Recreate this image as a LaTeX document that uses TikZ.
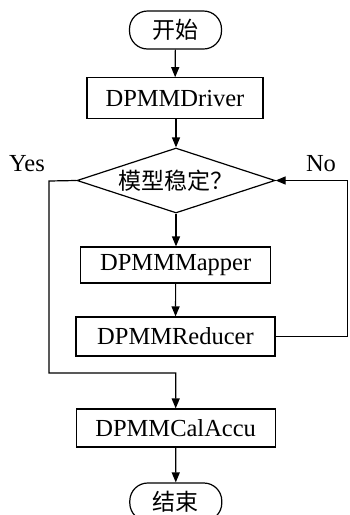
\documentclass[tikz,border=0pt]{standalone}
\usepackage{fontspec}
\setmainfont{Liberation Serif}
\newfontfamily\cjk{Noto Sans CJK SC}
\usetikzlibrary{shapes.geometric,arrows.meta}
\begin{document}
\begin{tikzpicture}[x=1pt,y=1pt,
  line width=1.2pt,
  font=\fontsize{24.5}{27}\selectfont,
  cjkf/.style={font=\fontsize{23}{26}\selectfont\cjk},
  box/.style={draw,rectangle,inner sep=0pt},
  term/.style={draw,rectangle,rounded corners=18pt,inner sep=0pt,minimum width=92pt,minimum height=38pt,cjkf},
  dec/.style={draw,diamond,aspect=3,inner sep=0pt,minimum width=198pt,minimum height=65pt,cjkf},
  arr/.style={-{Triangle[length=10pt,width=8pt]}},
  lbl/.style={inner sep=0pt}]
\useasboundingbox (0,0) rectangle (349,-515);
\node[term] (start) at (175.5,-30) {开始};
\node[box,minimum width=176pt,minimum height=41pt] (driver) at (175,-98.3) {DPMMDriver};
\node[dec] (dec) at (176,-180.5) {模型稳定？};
\node[box,minimum width=190pt,minimum height=36pt] (mapper) at (175.7,-265) {DPMMMapper};
\node[box,minimum width=199pt,minimum height=39pt] (reducer) at (175.5,-336.5) {DPMMReducer};
\node[box,minimum width=199pt,minimum height=38pt] (calc) at (175.7,-428) {DPMMCalAccu};
\node[term] (end) at (175.8,-502) {结束};
\node[lbl] (yes) at (27,-164) {Yes};
\node[lbl] (no) at (321,-164) {No};
\coordinate (yl) at (49,-181);
\coordinate (yb) at (49,-373);
\coordinate (ym) at (175.7,-373);
\coordinate (nr) at (347.5,-336.5);
\coordinate (nt) at (347.5,-180.5);
\draw[arr] (start) -- (driver);
\draw[arr] (driver.south -| dec.north) -- (dec.north);
\draw[arr] (dec.south) -- (dec.south |- mapper.north);
\draw[arr] (mapper) -- (reducer);
\draw[arr] (dec.west) -- (yl) -- (yb) -- (ym) -- (calc.north);
\draw[arr] (reducer.east) -- (nr) -- (nt) -- (dec.east);
\draw[arr] (calc) -- (end);
\end{tikzpicture}
\end{document}
